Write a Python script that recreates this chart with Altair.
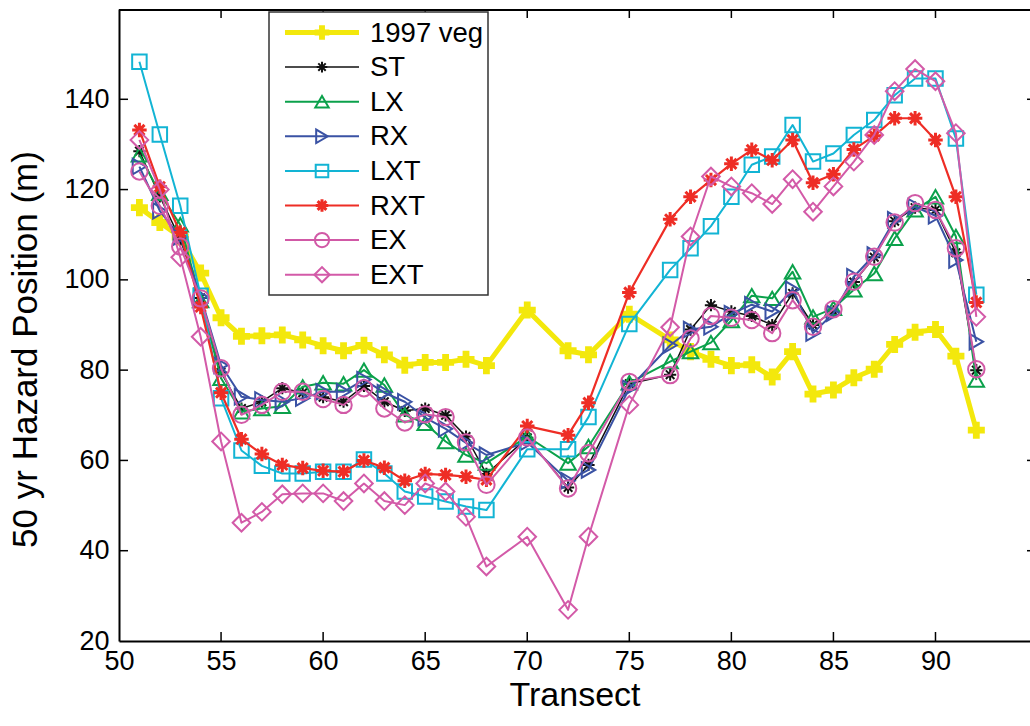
import altair as alt
import pandas as pd

# ---------------- data ----------------
transects = [51, 52, 53, 54, 55, 56, 57, 58, 59, 60, 61, 62, 63, 64, 65, 66, 67, 68,
             70, 72, 73, 75, 77, 78, 79, 80, 81, 82, 83, 84, 85, 86, 87, 88, 89, 90, 91, 92]

veg_1997 = [116.0, 112.7, 109.5, 101.5, 91.6, 87.5, 87.6, 87.8, 86.7, 85.4, 84.3, 85.5, 83.4, 81.1, 81.7, 81.7, 82.4, 81.0,
            93.3, 84.3, 83.4, 92.4, 86.7, 84.1, 82.4, 81.0, 81.2, 78.5, 84.1, 74.7, 75.6, 78.3, 80.2, 85.7, 88.4, 89.0, 83.1, 66.7]
st = [128.5, 118.5, 109.0, 96.0, 79.5, 71.5, 73.0, 76.0, 75.0, 74.0, 73.0, 76.5, 73.0, 71.0, 71.5, 70.0, 65.3, 57.0,
      65.0, 54.0, 59.0, 77.0, 79.0, 89.0, 94.4, 93.0, 92.0, 90.0, 97.0, 90.0, 93.0, 99.5, 105.0, 113.0, 116.0, 115.5, 106.0, 80.0]
lx = [127.7, 119.2, 112.2, 95.4, 78.2, 70.8, 71.5, 72.0, 76.3, 77.2, 77.0, 80.0, 76.7, 70.1, 68.2, 64.2, 61.2, 59.4,
      65.3, 59.4, 63.1, 77.2, 81.9, 84.1, 86.1, 91.0, 96.5, 95.9, 101.8, 91.8, 93.7, 97.8, 101.4, 109.2, 115.5, 118.4, 109.6, 77.8]
rx = [125.1, 115.3, 109.5, 96.3, 81.1, 74.1, 73.4, 73.0, 73.8, 75.2, 75.2, 77.9, 75.0, 73.0, 69.5, 67.0, 63.9, 61.2,
      64.0, 55.5, 57.9, 76.0, 85.5, 89.0, 89.6, 92.5, 94.5, 93.0, 97.9, 88.2, 92.6, 100.7, 105.5, 113.3, 116.2, 114.2, 104.4, 86.3]
lxt = [148.3, 132.2, 116.4, 96.5, 73.8, 62.2, 58.8, 57.1, 57.1, 57.5, 57.5, 60.2, 57.1, 53.1, 52.0, 50.9, 49.8, 49.0,
       62.5, 62.5, 69.6, 90.2, 102.2, 107.0, 111.9, 118.4, 125.5, 127.3, 134.3, 126.2, 128.0, 132.1, 135.4, 140.9, 144.6, 144.6, 131.3, 96.7]
rxt = [133.2, 120.6, 110.5, 94.0, 75.0, 64.7, 61.4, 59.0, 58.3, 57.7, 57.5, 60.0, 58.4, 55.5, 57.0, 56.8, 56.4, 55.7,
       67.6, 65.6, 72.8, 97.2, 113.4, 118.4, 122.1, 125.7, 128.8, 126.5, 131.0, 121.5, 123.4, 128.9, 131.9, 135.8, 135.8, 131.0, 118.4, 95.0]
ex = [124.0, 116.4, 107.4, 95.9, 80.4, 70.1, 72.3, 75.2, 75.2, 73.6, 72.3, 76.0, 71.5, 68.4, 70.2, 69.6, 64.0, 54.6,
      65.1, 53.8, 61.6, 77.4, 78.9, 87.0, 92.0, 91.6, 91.1, 88.2, 95.5, 89.6, 93.5, 99.6, 105.1, 112.7, 117.0, 115.5, 107.0, 80.2]
ext = [131.0, 120.0, 105.0, 87.4, 64.2, 46.2, 48.6, 52.5, 52.7, 52.7, 51.0, 54.9, 51.0, 50.1, 54.9, 53.1, 47.5, 36.5,
       43.1, 26.9, 43.1, 72.3, 89.5, 109.6, 122.9, 120.7, 119.2, 116.8, 122.3, 115.1, 120.7, 126.2, 132.1, 141.8, 146.7, 144.0, 132.5, 91.8]

series_names = ["1997 veg", "ST", "LX", "RX", "LXT", "RXT", "EX", "EXT"]
series_values = [veg_1997, st, lx, rx, lxt, rxt, ex, ext]

x_ticks = [55, 60, 65, 70, 75, 80, 85, 90]
y_ticks = [40, 60, 80, 100, 120, 140]
x_labels = [50, 55, 60, 65, 70, 75, 80, 85, 90]
y_labels = [20, 40, 60, 80, 100, 120, 140]

rows = []
for name, vals in zip(series_names, series_values):
    for t, v in zip(transects, vals):
        rows.append({"series": name, "transect": t, "value": v})
df = pd.DataFrame(rows)

# ---------------- styling ----------------
W, H = 911, 632
FONT = "Liberation Sans"
ASTER = "M-1,0L1,0M0,-1L0,1M-0.7,-0.7L0.7,0.7M-0.7,0.7L0.7,-0.7"

styles = {
    "1997 veg": dict(color="#F3E80C", lw=5, shape="cross", size=290, filled=True, sw=0),
    "ST": dict(color="#111111", lw=1.5, shape=ASTER, size=150, filled=False, sw=2),
    "LX": dict(color="#0BA14B", lw=2, shape="triangle-up", size=240, filled=False, sw=2),
    "RX": dict(color="#3A52A4", lw=2, shape="triangle-right", size=240, filled=False, sw=2),
    "LXT": dict(color="#12B4D4", lw=2, shape="square", size=210, filled=False, sw=2),
    "RXT": dict(color="#EE2D25", lw=2.2, shape=ASTER, size=210, filled=False, sw=3),
    "EX": dict(color="#D159A6", lw=2, shape="circle", size=270, filled=False, sw=2),
    "EXT": dict(color="#D35AA8", lw=2, shape="diamond", size=310, filled=False, sw=2),
}

xs = alt.Scale(domain=[50, 94.63], nice=False, zero=False)
ys = alt.Scale(domain=[20, 160], nice=False, zero=False)

x_axis = alt.Axis(values=x_labels, title="Transect", ticks=False, grid=False, domain=True,
                  domainColor="black", domainWidth=2, labelFont=FONT, labelFontSize=27,
                  labelColor="black", labelPadding=7, labelFlush=False, titleFont=FONT,
                  titleFontSize=34, titleFontWeight="normal", titleColor="black", titlePadding=4)
y_axis = alt.Axis(values=y_labels, title="50 yr Hazard Position (m)", ticks=False, grid=False,
                  domain=True, domainColor="black", domainWidth=2, labelFont=FONT,
                  labelFontSize=27, labelColor="black", labelPadding=10, labelFlush=False,
                  titleFont=FONT, titleFontSize=35, titleFontWeight="normal", titleColor="black",
                  titlePadding=20, titleY=340)

X = alt.X("transect:Q", scale=xs, axis=x_axis)
Y = alt.Y("value:Q", scale=ys, axis=y_axis)

layers = []

# series: line then markers, in plotting order
for name in series_names:
    s = styles[name]
    base = alt.Chart(df).transform_filter(alt.datum.series == name)
    layers.append(base.mark_line(color=s["color"], strokeWidth=s["lw"], strokeJoin="round",
                                 clip=True).encode(x=X, y=Y))
    layers.append(base.mark_point(shape=s["shape"], size=s["size"], filled=s["filled"],
                                  color=s["color"], strokeWidth=s["sw"], opacity=1,
                                  clip=True).encode(x=X, y=Y))

# inward ticks (top / bottom / left / right)
xt = pd.DataFrame({"transect": x_ticks})
yt = pd.DataFrame({"value": y_ticks})
tick_style = dict(color="black", strokeWidth=1.5)
layers.append(alt.Chart(xt).mark_rule(**tick_style).encode(x=X, y=alt.value(H), y2=alt.value(H - 9)))
layers.append(alt.Chart(xt).mark_rule(**tick_style).encode(x=X, y=alt.value(0), y2=alt.value(9)))
layers.append(alt.Chart(yt).mark_rule(**tick_style).encode(y=Y, x=alt.value(0), x2=alt.value(9)))
layers.append(alt.Chart(yt).mark_rule(**tick_style).encode(y=Y, x=alt.value(W - 3), x2=alt.value(W)))

# top frame line
one = pd.DataFrame({"k": [0]})
layers.append(alt.Chart(one).mark_rule(color="black", strokeWidth=2).encode(
    x=alt.value(0), x2=alt.value(W), y=alt.value(1)))

# legend box
LX0, LX1, LY0, LY1 = 150, 369, 3, 286
layers.append(alt.Chart(one).mark_rect(fill="white", stroke="#333333", strokeWidth=1.5).encode(
    x=alt.value(LX0), x2=alt.value(LX1), y=alt.value(LY0), y2=alt.value(LY1)))

LEG_Y0, LEG_DY = 23.5, 34.6
for i, name in enumerate(series_names):
    s = styles[name]
    yy = LEG_Y0 + i * LEG_DY
    d = pd.DataFrame({"series": [name]})
    layers.append(alt.Chart(d).mark_rule(color=s["color"], strokeWidth=s["lw"]).encode(
        x=alt.value(166), x2=alt.value(240), y=alt.value(yy)))
    layers.append(alt.Chart(d).mark_point(shape=s["shape"], size=s["size"] * 0.75,
                                          filled=s["filled"], color=s["color"],
                                          strokeWidth=s["sw"], opacity=1).encode(
        x=alt.value(203), y=alt.value(yy)))
    layers.append(alt.Chart(d).mark_text(align="left", baseline="middle", font=FONT,
                                         fontSize=27.5, color="black").encode(
        x=alt.value(251), y=alt.value(yy + 1), text="series:N"))

chart = alt.layer(*layers).properties(
    width=W, height=H,
    padding={"left": 119, "top": 9, "right": 0, "bottom": 85},
    autosize=alt.AutoSizeParams(type="none"),
    background="white",
).configure_view(stroke=None)

chart.save("out.html", embed_options={"renderer": "svg", "actions": False})
